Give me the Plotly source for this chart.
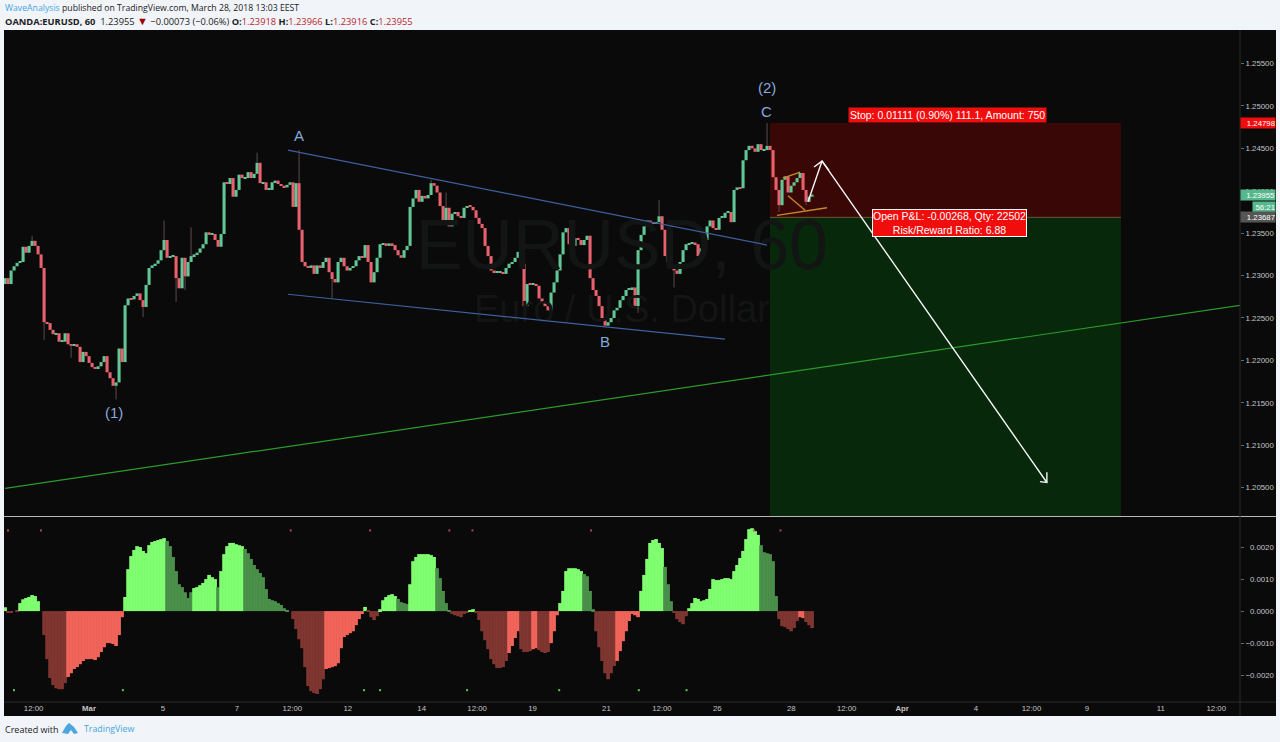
import plotly.graph_objects as go

# ---------- data ----------
closes = [1.2297,1.2290,1.2306,1.2311,1.2315,1.2316,1.2334,1.2327,1.2335,1.2341,1.2335,1.2325,1.2309,
1.2245,1.2244,1.2236,1.2231,1.2232,1.2222,1.2222,1.2232,1.2219,1.2218,1.2219,1.2216,1.2198,1.2210,1.2205,
1.2197,1.2192,1.2191,1.2193,1.2198,1.2205,1.2186,1.2179,1.2170,1.2174,1.2214,1.2198,1.2265,1.2273,1.2272,
1.2276,1.2279,1.2271,1.2263,1.2289,1.2309,1.2312,1.2314,1.2318,1.2330,1.2342,1.2321,1.2322,1.2323,1.2297,
1.2285,1.2321,1.2299,1.2316,1.2323,1.2325,1.2327,1.2332,1.2337,1.2351,1.2348,1.2349,1.2342,1.2334,1.2349,
1.2410,1.2408,1.2415,1.2393,1.2401,1.2419,1.2415,1.2415,1.2422,1.2415,1.2420,1.2433,1.2409,1.2410,1.2401,
1.2401,1.2410,1.2412,1.2408,1.2406,1.2404,1.2407,1.2410,1.2381,1.2409,1.2354,1.2316,1.2311,1.2309,1.2312,
1.2302,1.2312,1.2309,1.2316,1.2321,1.2304,1.2296,1.2292,1.2316,1.2321,1.2311,1.2306,1.2309,1.2311,1.2318,
1.2323,1.2321,1.2336,1.2316,1.2292,1.2304,1.2321,1.2337,1.2338,1.2335,1.2338,1.2336,1.2330,1.2324,1.2321,
1.2330,1.2335,1.2381,1.2391,1.2401,1.2387,1.2394,1.2391,1.2395,1.2409,1.2406,1.2398,1.2382,1.2365,1.2380,
1.2358,1.2373,1.2375,1.2370,1.2368,1.2380,1.2382,1.2381,1.2377,1.2368,1.2361,1.2356,1.2335,1.2323,1.2306,
1.2304,1.2304,1.2304,1.2302,1.2309,1.2314,1.2316,1.2321,1.2328,1.2314,1.2264,1.2290,1.2289,1.2290,1.2288,
1.2273,1.2269,1.2264,1.2259,1.2280,1.2292,1.2306,1.2325,1.2351,1.2356,1.2337,1.2335,1.2344,1.2342,1.2336,
1.2342,1.2347,1.2297,1.2283,1.2276,1.2264,1.2250,1.2241,1.2245,1.2250,1.2259,1.2262,1.2271,1.2276,1.2283,
1.2283,1.2286,1.2264,1.2330,1.2348,1.2358,1.2365,1.2363,1.2361,1.2363,1.2370,1.2354,1.2323,1.2316,1.2309,
1.2306,1.2302,1.2316,1.2330,1.2337,1.2338,1.2339,1.2337,1.2323,1.2332,1.2342,1.2358,1.2365,1.2356,1.2354,
1.2368,1.2368,1.2374,1.2375,1.2363,1.2401,1.2404,1.2403,1.2436,1.2448,1.2453,1.2450,1.2446,1.2455,1.2448,
1.2448,1.2453,1.2448,1.2416,1.2401,1.2383,1.2413,1.2417,1.2398,1.2406,1.2410,1.2415,1.2421,1.2401,1.2387,
1.2393,1.23955]
first_open = 1.2290
high_wicks = {9:1.2347,53:1.2365,62:1.2357,84:1.2445,98:1.2448,142:1.2413,147:1.2398,218:1.2389,254:1.2480}
low_wicks = {13:1.2224,22:1.2203,37:1.2154,46:1.2251,57:1.2269,60:1.2283,109:1.2273,200:1.2239,211:1.2256,223:1.2286,258:1.2375,267:1.2383}

hist_e5 = [12,-3,-3,0,3,25,37,41,44,50,47,31,
0,-75,-150,-209,-231,-241,-244,-244,-225,-206,-194,-181,-175,-166,-156,-150,-150,-150,-153,-144,-128,-113,-100,-100,-103,-109,-75,-19,
44,131,172,191,203,200,188,181,206,216,219,222,225,228,219,203,169,125,84,75,59,41,59,72,75,81,88,100,113,106,100,75,125,178,203,213,213,209,206,203,194,181,163,144,131,119,106,69,38,34,31,25,19,9,3,0,
-25,-56,-88,-116,-175,-234,-250,-256,-259,-244,-213,-181,-178,-175,-172,-163,-116,-81,-75,-69,-63,-44,-25,-9,
13,3,-19,-28,-16,6,34,44,50,53,47,38,28,25,22,84,156,169,178,178,178,178,175,169,134,103,63,25,3,
-9,-13,-16,-19,-9,-3,3,6,-6,-28,-63,-91,-119,-150,-166,-178,-178,-175,-156,-131,-109,-84,-63,-119,-128,-128,-125,-119,-116,-122,-128,-131,-128,-100,-63,-13,
25,63,125,134,134,134,131,125,116,109,63,6,
-63,-113,-156,-194,-213,-194,-172,-156,-125,-94,-63,-31,-9,-13,-19,
63,113,163,213,222,225,213,197,138,84,31,
-6,-25,-34,-41,-16,
9,25,41,38,31,34,38,69,100,97,97,100,103,103,100,125,144,166,188,225,256,259,250,238,206,184,181,178,156,47,
-25,-47,-50,-56,-63,-53,-31,-19,-22,-34,-44,-53]
hist_state_start = [0,1,5,12,21,40,54,63,71,72,80,96,107,120,121,125,131,135,144,149,155,157,168,172,176,178,182,185,193,197,204,212,220,223,228,252,258,265,267]
hist_state_code = ["G","D","G","D","L","G","g","G","g","G","g","D","L","G","D","G","g","G","g","D","G","D","L","D","L","D","L","G","g","D","L","G","g","D","G","g","D","L","D"]

dot_up_idx = [-52.6,-31.2,131,182.5,234,249,326,432,449]
dot_dn_idx = [-48.7,22,178.6,189,245.5,305.3,357,388]

tick_idx = [-36,0,48,96,132,168,216,252,288,336,372,408,456,492,528,576,612,648,696,732]
tick_text = ["12:00","<b>Mar</b>","5","7","12:00","12","14","12:00","19","21","12:00","26","28","12:00","<b>Apr</b>","4","12:00","9","11","12:00"]
price_ticks = [1.205,1.21,1.215,1.22,1.225,1.23,1.235,1.24,1.245,1.25,1.255]
osc_ticks = [-0.002,-0.001,0,0.001,0.002]
osc_text = ["−0.0020","−0.0010","\u00a0\u00a00.0000","\u00a0\u00a00.0010","\u00a0\u00a00.0020"]

channel_top = ([129.2,440.3],[1.2448,1.2336])
channel_bot = ([129.2,413],[1.2278,1.2225])
trend_line = ([-54.5,747.4],[1.2049,1.2265])
orange_a = ([450.6,461.7],[1.2415,1.2422])
orange_b = ([453.9,465],[1.2394,1.2377])
orange_c = ([446.8,479.2],[1.2371,1.2380])
arrow_path = ([466.9,476,622],[1.2387,1.2435,1.2056])
head_one = ([470.8,476,480.5],[1.2428,1.2435,1.2424])
head_two = ([617.5,622,622],[1.2057,1.2056,1.2068])
stop_price, entry_price = 1.24798, 1.23687
box_x = (442.2,670.1)
wave_labels = [("A",136.5,1.2465),("(1)",16,1.2138),("B",335,1.2222),("C",440,1.2494),("(2)",440,1.2522)]

# ---------- helpers ----------
W, H = 1280, 742
px = lambda x: x / W
py = lambda y: 1 - y / H
n = len(closes)
xs = [-54.5 + 1.948 * k for k in range(n)]
opens = [first_open] + closes[:-1]
body_hi = [max(o, c) for o, c in zip(opens, closes)]
body_lo = [min(o, c) for o, c in zip(opens, closes)]
body_len = [max(h - l, 0.00012) for h, l in zip(body_hi, body_lo)]

palette = {"G":"#80ff70","g":"#4a8f4a","L":"#f0645a","D":"#7f3530"}
hx = xs[:len(hist_e5)]
hvals = [v * 1e-5 for v in hist_e5]
hcols = []
for i in range(len(hvals)):
    code = "G"
    for s, c in zip(hist_state_start, hist_state_code):
        if s <= i:
            code = c
    hcols.append(palette[code])

fig = go.Figure()
WM = "#131414"
fig.add_trace(go.Scatter(x=[346], y=[1.2328], mode="text", text=["EURUSD, 60"], hoverinfo="skip",
                         textfont=dict(size=70, color=WM, family="Liberation Sans"), textposition="middle center"))
fig.add_trace(go.Scatter(x=[346], y=[1.2257], mode="text", text=["Euro / U.S. Dollar"], hoverinfo="skip",
                         textfont=dict(size=38, color=WM, family="Liberation Sans"), textposition="middle center"))

def seg(d, color, width):
    fig.add_trace(go.Scatter(x=d[0], y=d[1], mode="lines", hoverinfo="skip",
                             line=dict(color=color, width=width)))

seg(trend_line, "#2c9a2c", 1.2)
seg(channel_top, "#3f5f9f", 1.2)
seg(channel_bot, "#3f5f9f", 1.2)

UP, DN = "#62c796", "#e8626e"
wx, wy = [], []
for i, p in list(high_wicks.items()) + list(low_wicks.items()):
    edge = body_hi[i] if p > body_hi[i] else body_lo[i]
    wx += [xs[i], xs[i], None]
    wy += [edge, p, None]
fig.add_trace(go.Scatter(x=wx, y=wy, mode="lines", hoverinfo="skip", line=dict(color="#5c4a4c", width=1)))
fig.add_trace(go.Bar(x=xs, y=body_len, base=body_lo, width=2.0, hoverinfo="skip",
                     marker=dict(color=[UP if c >= o else DN for o, c in zip(opens, closes)], line=dict(width=0))))

seg(orange_a, "#c88a2c", 1.3)
seg(orange_b, "#c88a2c", 1.3)
seg(orange_c, "#c88a2c", 1.3)
for d in (arrow_path, head_one, head_two):
    seg(d, "#f6f6f6", 1.4)

fig.add_trace(go.Bar(x=hx, y=hvals, width=2.4, marker=dict(color=hcols, line=dict(width=0)),
                     yaxis="y2", hoverinfo="skip"))
fig.add_trace(go.Scatter(x=dot_up_idx, y=[0.00252]*len(dot_up_idx), yaxis="y2", mode="markers", hoverinfo="skip",
                         marker=dict(symbol="square", size=2, color="#b04a50")))
fig.add_trace(go.Scatter(x=dot_dn_idx, y=[-0.00247]*len(dot_dn_idx), yaxis="y2", mode="markers", hoverinfo="skip",
                         marker=dict(symbol="square", size=2, color="#5cc85c")))

AX = "#2a2a2a"
TXT = "#c4c4c4"
PF = "Liberation Sans"
TS = 7.8
shapes = [
    dict(type="rect", xref="paper", yref="paper", x0=px(4), x1=px(1276), y0=py(716), y1=py(30),
         fillcolor="#0a0a0a", line=dict(width=0), layer="below"),
    dict(type="rect", xref="x", yref="y", x0=box_x[0], x1=box_x[1], y0=entry_price, y1=stop_price,
         fillcolor="#380706", line=dict(width=0), layer="below"),
    dict(type="rect", xref="x", yref="y", x0=box_x[0], x1=box_x[1], y0=1.2016, y1=entry_price,
         fillcolor="#07280b", line=dict(width=0), layer="below"),
    dict(type="line", xref="x", yref="y", x0=box_x[0], x1=box_x[1], y0=entry_price, y1=entry_price,
         line=dict(color="#6a5a30", width=1), layer="below"),
    dict(type="line", xref="paper", yref="paper", x0=px(4), x1=px(1276), y0=py(516.5), y1=py(516.5),
         line=dict(color="#b8b8b8", width=1)),
    dict(type="line", xref="paper", yref="paper", x0=px(1240), x1=px(1240), y0=py(716), y1=py(30),
         line=dict(color=AX, width=1)),
    dict(type="line", xref="paper", yref="paper", x0=px(4), x1=px(1276), y0=py(702), y1=py(702),
         line=dict(color=AX, width=1)),
]
# TradingView logo in the footer
logo = [(62,733),(66,726),(69,723),(74,727),(78,733),(74,734),(71,730),(68,734)]
path = "M " + " L ".join(f"{px(a):.5f},{py(b):.5f}" for a, b in logo) + " Z"
shapes.append(dict(type="path", xref="paper", yref="paper", path=path, fillcolor="#4aa6dc", line=dict(width=0)))

HF = "Open Sans"
anns = []
def note(text, x, y, size=10, color="#222", anchor="left", family=HF, **kw):
    anns.append(dict(text=text, x=px(x), y=py(y), xref="paper", yref="paper", xanchor=anchor, yanchor="middle",
                     showarrow=False, font=dict(size=size, color=color, family=family), **kw))

note('<span style="color:#45a6dc">WaveAnalysis</span> published on TradingView.com, March 28, 2018 13:03 EEST', 3, 8, 8.7)
R = '<span style="color:#b8262c">%s</span>'
note('<b>OANDA:EURUSD, 60</b>\u00a0\u00a01.23955 <span style="color:#a00000;font-size:11px">▼</span> −0.00073 (−0.06%) <b>O:</b>' + R % "1.23918"
     + ' <b>H:</b>' + R % "1.23966" + ' <b>L:</b>' + R % "1.23916" + ' <b>C:</b>' + R % "1.23955", 3, 20, 9.3)
note("Created with", 3, 729, 9)
note("TradingView", 82, 729, 8.8, color="#45a6dc")

for t, x, y in wave_labels:
    anns.append(dict(text=t, x=x, y=y, xref="x", yref="y", showarrow=False,
                     font=dict(size=15, color="#86a9dc", family=PF)))

note("Stop: 0.01111 (0.90%) 111.1, Amount: 750", 947.5, 115, 10.5, color="#ffffff", anchor="center", family=PF,
     bgcolor="#f20d0d", borderpad=1)
note("Open P&amp;L: -0.00268, Qty: 22502<br>Risk/Reward Ratio: 6.88", 949, 223, 10.5, color="#ffffff", anchor="center",
     family=PF, bgcolor="#f20d0d", bordercolor="#ffffff", borderwidth=1, borderpad=0)

def tag(text, price, bg, x0=1240, w=34):
    anns.append(dict(text=text, x=px(x0), y=price, xref="paper", yref="y", xanchor="left", yanchor="middle",
                     showarrow=False, bgcolor=bg, borderpad=0, width=w, height=10, align="right",
                     font=dict(size=TS, color="#ffffff", family=PF)))
tag("1.24798", 1.24798, "#f20d0d")
tag("1.23955", 1.23955, "#55b88c")
tag("56:21", 1.2381, "#55b88c", 1252, 22)
tag("1.23687", entry_price, "#555555")

fig.update_layout(
    width=W, height=H, margin=dict(l=0, r=0, t=0, b=0), autosize=False,
    paper_bgcolor="#f1f4f9", plot_bgcolor="rgba(0,0,0,0)", showlegend=False,
    shapes=shapes, annotations=anns,
    font=dict(family=PF),
    xaxis=dict(domain=[px(4), px(1240)], range=[-55.2, 747.4], anchor="y2", rangeslider=dict(visible=False),
               tickmode="array", tickvals=tick_idx, ticktext=tick_text, ticks="", showgrid=False, zeroline=False,
               showline=False, tickfont=dict(size=TS, color=TXT, family=PF), tickangle=0, automargin=False),
    yaxis=dict(domain=[py(516), py(30)], range=[1.20165, 1.25896], side="right", anchor="x", showgrid=False,
               zeroline=False, showline=False, tickmode="array", tickvals=price_ticks, tickformat=".5f",
               ticks="outside", ticklen=3, tickcolor="#666", tickfont=dict(size=TS, color=TXT, family=PF), automargin=False),
    yaxis2=dict(domain=[py(702), py(517)], range=[-0.00284, 0.00294], side="right", anchor="x", showgrid=False,
                zeroline=False, showline=False, tickmode="array", tickvals=osc_ticks, ticktext=osc_text,
                ticks="outside", ticklen=3, tickcolor="#666", tickfont=dict(size=TS, color=TXT, family=PF), automargin=False),
)

fig.write_html("out.html", config=dict(displayModeBar=False),
               post_script="document.body.style.margin='0';document.body.style.overflow='hidden';")
